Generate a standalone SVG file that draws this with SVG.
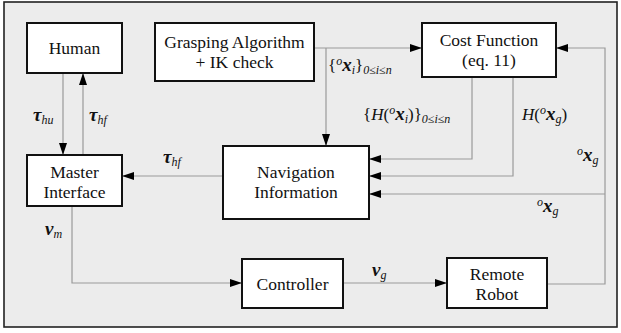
<svg xmlns="http://www.w3.org/2000/svg" width="621" height="333" viewBox="0 0 621 333" font-family="Liberation Serif, Times New Roman, serif">
<defs>
<style>
.frame{fill:#ececec;stroke:#222;stroke-width:1.6}
.box{fill:#fff;stroke:#111;stroke-width:2}
.lbl{font-family:'Liberation Serif',serif;font-size:17.5px;fill:#111;text-anchor:middle}
.conn{fill:none;stroke:#9a9a9a;stroke-width:1.2;marker-end:url(#arr)}
.m{font-family:'Liberation Serif',serif;font-size:17px;fill:#111;font-style:italic}
.b{font-weight:bold;font-size:19px}
.s{font-size:12px}
.n{font-style:normal}
</style>
<marker id="arr" markerWidth="12" markerHeight="8" refX="12" refY="4" orient="auto" markerUnits="userSpaceOnUse">
<path d="M0,0 L12,4 L0,8 z" fill="#000"/>
</marker>
</defs>
<rect class="frame" x="4" y="2" width="613" height="325"/>
<g id="connectors">
<path class="conn" d="M63,73 V155"/>
<path class="conn" d="M83,155 V73"/>
<path class="conn" d="M314,48 H422"/>
<path class="conn" d="M326,48 V146"/>
<path class="conn" d="M472,77 V159 H369"/>
<path class="conn" d="M513,77 V176 H369"/>
<path class="conn" d="M547,284 H605 V48 H556"/>
<path class="conn" d="M605,194 H369"/>
<path class="conn" d="M223,176 H122"/>
<path class="conn" d="M72,206 V283 H242"/>
<path class="conn" d="M343,283 H447"/>
<text class="m" x="33" y="121"><tspan class="b">τ</tspan><tspan class="s" dy="3">hu</tspan></text>
<text class="m" x="89" y="121"><tspan class="b">τ</tspan><tspan class="s" dy="3">hf</tspan></text>
<text class="m" x="163" y="163"><tspan class="b">τ</tspan><tspan class="s" dy="3">hf</tspan></text>
<text class="m" x="328" y="71"><tspan class="n">{</tspan><tspan class="s" dy="-6">o</tspan><tspan class="b" dy="6">x</tspan><tspan class="s" dy="3">i</tspan><tspan class="n" dy="-3">}</tspan><tspan class="s" dy="3">0≤i≤n</tspan></text>
<text class="m" x="363" y="120"><tspan class="n">{</tspan>H<tspan class="n">(</tspan><tspan class="s" dy="-6">o</tspan><tspan class="b" dy="6">x</tspan><tspan class="s" dy="3">i</tspan><tspan class="n" dy="-3">)}</tspan><tspan class="s" dy="3">0≤i≤n</tspan></text>
<text class="m" x="522" y="120">H<tspan class="n">(</tspan><tspan class="s" dy="-6">o</tspan><tspan class="b" dy="6">x</tspan><tspan class="s" dy="3">g</tspan><tspan class="n" dy="-3">)</tspan></text>
<text class="m" x="577" y="161"><tspan class="s" dy="-6">o</tspan><tspan class="b" dy="6">x</tspan><tspan class="s" dy="3">g</tspan></text>
<text class="m" x="537" y="212"><tspan class="s" dy="-6">o</tspan><tspan class="b" dy="6">x</tspan><tspan class="s" dy="3">g</tspan></text>
<text class="m" x="45" y="235"><tspan class="b">v</tspan><tspan class="s" dy="3">m</tspan></text>
<text class="m" x="372" y="276"><tspan class="b">v</tspan><tspan class="s" dy="3">g</tspan></text>
</g>
<g id="human"><rect class="box" x="27" y="23" width="95" height="50"/><text class="lbl" x="74.5" y="54">Human</text></g>
<g id="grasping"><rect class="box" x="155" y="23" width="159" height="58"/><text class="lbl" x="234.5" y="48">Grasping Algorithm</text><text class="lbl" x="234.5" y="68">+ IK check</text></g>
<g id="cost"><rect class="box" x="422" y="23" width="134" height="54"/><text class="lbl" x="489" y="46">Cost Function</text><text class="lbl" x="489" y="66">(eq. 11)</text></g>
<g id="master"><rect class="box" x="27" y="155" width="95" height="51"/><text class="lbl" x="74.5" y="178">Master</text><text class="lbl" x="74.5" y="198">Interface</text></g>
<g id="navigation"><rect class="box" x="223" y="146" width="146" height="73"/><text class="lbl" x="296" y="178">Navigation</text><text class="lbl" x="296" y="198">Information</text></g>
<g id="controller"><rect class="box" x="242" y="259" width="101" height="49"/><text class="lbl" x="292.5" y="290">Controller</text></g>
<g id="robot"><rect class="box" x="447" y="258" width="100" height="50"/><text class="lbl" x="497" y="280">Remote</text><text class="lbl" x="497" y="300">Robot</text></g>
</svg>
